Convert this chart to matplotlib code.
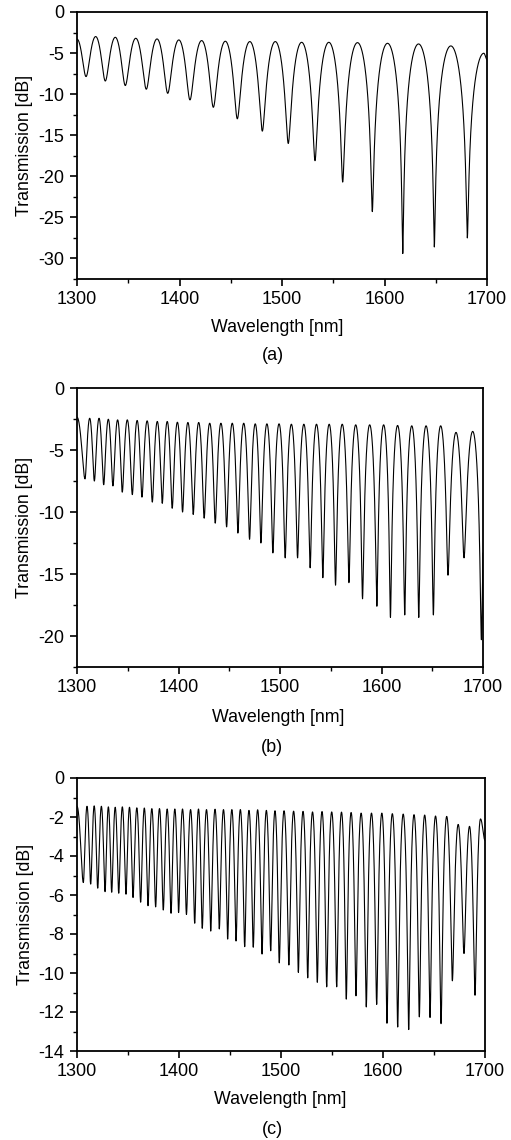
import numpy as np
import matplotlib
matplotlib.use("Agg")
import matplotlib.pyplot as plt
from matplotlib.ticker import MultipleLocator

plt.rcParams['font.family'] = ['Liberation Sans', 'DejaVu Sans']
plt.rcParams['axes.unicode_minus'] = False

# ---- panel (a): dip positions [nm], dip depths [dB], peak level after each dip [dB]
a_dip_wl = [1308.8, 1327.6, 1347.1, 1367.6, 1388.5, 1410.2, 1433.0, 1456.4,
            1480.8, 1506.1, 1532.2, 1559.2, 1588.1, 1617.8, 1648.6, 1680.8]
a_dip_db = [-7.86, -8.4, -8.95, -9.4, -9.9, -10.7, -11.6, -13.0,
            -14.5, -16.0, -18.1, -20.7, -24.3, -29.4, -28.6, -27.5]
a_peak_db = [-2.99, -3.08, -3.2, -3.28, -3.4, -3.48, -3.56, -3.6,
             -3.6, -3.69, -3.69, -3.73, -3.81, -3.89, -4.13, -5.02]
a_start_db = -3.3
a_end_db = -5.8

# ---- panel (b)
b_dip_wl = [1307.9, 1317.1, 1326.3, 1335.4, 1344.6, 1354.5, 1364.0, 1374.2,
            1384.0, 1393.8, 1404.0, 1414.5, 1425.3, 1436.2, 1447.4, 1458.5,
            1470.0, 1481.2, 1493.0, 1505.1, 1517.3, 1529.7, 1542.2, 1554.7,
            1567.9, 1581.3, 1595.4, 1608.8, 1622.9, 1636.7, 1651.1, 1665.5,
            1681.3, 1698.4]
b_dip_db = [-7.33, -7.5, -7.8, -7.9, -8.4, -8.6, -8.8, -9.2,
            -9.3, -9.7, -10.0, -10.2, -10.5, -10.9, -11.2, -11.7,
            -12.2, -12.5, -13.3, -13.7, -13.7, -14.5, -15.3, -15.9,
            -15.7, -17.0, -17.6, -18.5, -18.3, -18.5, -18.3, -15.1,
            -13.7, -20.3]
b_peak_db = [-2.44, -2.44, -2.52, -2.57, -2.57, -2.62, -2.65, -2.70,
             -2.70, -2.76, -2.78, -2.78, -2.84, -2.84, -2.84, -2.84,
             -2.89, -2.89, -2.89, -2.92, -2.92, -2.92, -2.92, -2.92,
             -2.97, -2.97, -2.97, -3.02, -3.05, -3.05, -3.05, -3.58,
             -3.5, -3.6]
b_start_db = -2.35
b_end_db = -6.0

# ---- panel (c)
c_dip_wl = [1306.2, 1313.4, 1320.3, 1327.5, 1334.0, 1340.9, 1348.0, 1354.9,
            1362.4, 1369.6, 1377.1, 1384.6, 1392.2, 1399.6, 1407.3, 1415.4,
            1422.8, 1431.1, 1439.5, 1447.7, 1455.9, 1464.4, 1472.8, 1481.4,
            1489.9, 1498.3, 1507.7, 1517.0, 1526.2, 1535.6, 1544.8, 1554.6,
            1564.0, 1573.5, 1583.6, 1593.8, 1603.9, 1614.4, 1625.2, 1635.6,
            1646.1, 1656.9, 1668.0, 1679.4, 1690.2]
c_dip_db = [-5.36, -5.44, -5.65, -5.83, -5.86, -5.91, -5.96, -6.13,
            -6.37, -6.55, -6.61, -6.77, -6.94, -6.9, -7.0, -7.45,
            -7.71, -7.85, -7.74, -8.26, -8.36, -8.65, -8.68, -9.03,
            -8.86, -9.48, -9.59, -9.97, -10.25, -10.48, -10.71, -10.71,
            -11.34, -11.17, -11.74, -11.61, -12.58, -12.77, -12.9, -12.25,
            -12.28, -12.6, -10.4, -9.0, -11.14]
c_peak_db = [-1.45, -1.43, -1.45, -1.48, -1.5, -1.48, -1.5, -1.53,
             -1.54, -1.57, -1.57, -1.59, -1.59, -1.59, -1.62, -1.59,
             -1.62, -1.6, -1.62, -1.62, -1.62, -1.66, -1.63, -1.66,
             -1.68, -1.68, -1.7, -1.71, -1.74, -1.72, -1.74, -1.75,
             -1.77, -1.8, -1.8, -1.8, -1.83, -1.85, -1.88, -1.9,
             -1.95, -1.97, -2.38, -2.48, -2.1]
c_start_db = -1.45
c_end_db = -3.2


def fringe_curve(dip_wl, dip_db, peak_db, start_db, end_db, lo=1300, hi=1700):
    # joins the read-off extrema with raised-cosine half fringes (in linear power)
    dip_wl = np.asarray(dip_wl, float)
    gap = np.diff(dip_wl)
    peak_wl = np.append(dip_wl[:-1] + gap / 2, dip_wl[-1] + gap[-1] / 2)
    node_wl = [lo]
    node_db = [start_db]
    for i in range(len(dip_wl)):
        node_wl += [dip_wl[i], peak_wl[i]]
        node_db += [dip_db[i], peak_db[i]]
    if node_wl[-1] < hi:
        node_wl.append(hi)
        node_db.append(end_db)
    node_wl = np.array(node_wl)
    node_lin = 10 ** (np.array(node_db) / 10)
    x = np.union1d(np.linspace(lo, node_wl[-1], 8000), node_wl)
    idx = np.clip(np.searchsorted(node_wl, x, side='right') - 1, 0, len(node_wl) - 2)
    u = (x - node_wl[idx]) / (node_wl[idx + 1] - node_wl[idx])
    w = (1 - np.cos(np.pi * u)) / 2
    t = node_lin[idx] + (node_lin[idx + 1] - node_lin[idx]) * w
    return x, 10 * np.log10(t)


W, H = 511, 1140
fig = plt.figure(figsize=(W / 100, H / 100), dpi=100)

# (left, right, top, bottom) in pixels, ylim, major/minor y step, letter centre
panels = [
    (a_dip_wl, a_dip_db, a_peak_db, a_start_db, a_end_db,
     (77, 487, 12, 279), (-32.5, 0), 5, 2.5, '(a)', (273, 355), (277, 327)),
    (b_dip_wl, b_dip_db, b_peak_db, b_start_db, b_end_db,
     (77, 483, 388, 667), (-22.5, 0), 5, 2.5, '(b)', (272, 747), (278, 717)),
    (c_dip_wl, c_dip_db, c_peak_db, c_start_db, c_end_db,
     (77, 485, 778, 1051), (-14, 0), 2, 1, '(c)', (272, 1130), (280, 1100)),
]

for (dw, dd, pd, sd, ed, box, ylim, ymaj, ymin, letter, lpos, xlpos) in panels:
    l, r, t, b = box
    ax = fig.add_axes([l / W, 1 - b / H, (r - l) / W, (b - t) / H])
    x, y = fringe_curve(dw, dd, pd, sd, ed)
    ax.plot(x, y, color='black', lw=0.8)
    ax.set_xlim(1300, 1700)
    ax.set_ylim(*ylim)
    ax.xaxis.set_major_locator(MultipleLocator(100))
    ax.xaxis.set_minor_locator(MultipleLocator(50))
    ax.yaxis.set_major_locator(MultipleLocator(ymaj))
    ax.yaxis.set_minor_locator(MultipleLocator(ymin))
    ax.tick_params(which='major', direction='out', length=5, width=1.2,
                   labelsize=13, pad=4)
    ax.tick_params(which='minor', direction='out', length=3, width=1.0)
    for s in ax.spines.values():
        s.set_linewidth(1.3)
    ax.set_xlabel('Wavelength [nm]', fontsize=12.8, va='center')
    ax.set_ylabel('Transmission [dB]', fontsize=12.8, va='center')
    ax.xaxis.set_label_coords((xlpos[0] - l) / (r - l), (b - xlpos[1]) / (b - t))
    ax.yaxis.set_label_coords((25 - l) / (r - l), 0.5)
    fig.text(lpos[0] / W, 1 - lpos[1] / H, letter, ha='center', va='center',
             fontsize=13)

fig.savefig('out.png', dpi=100)
